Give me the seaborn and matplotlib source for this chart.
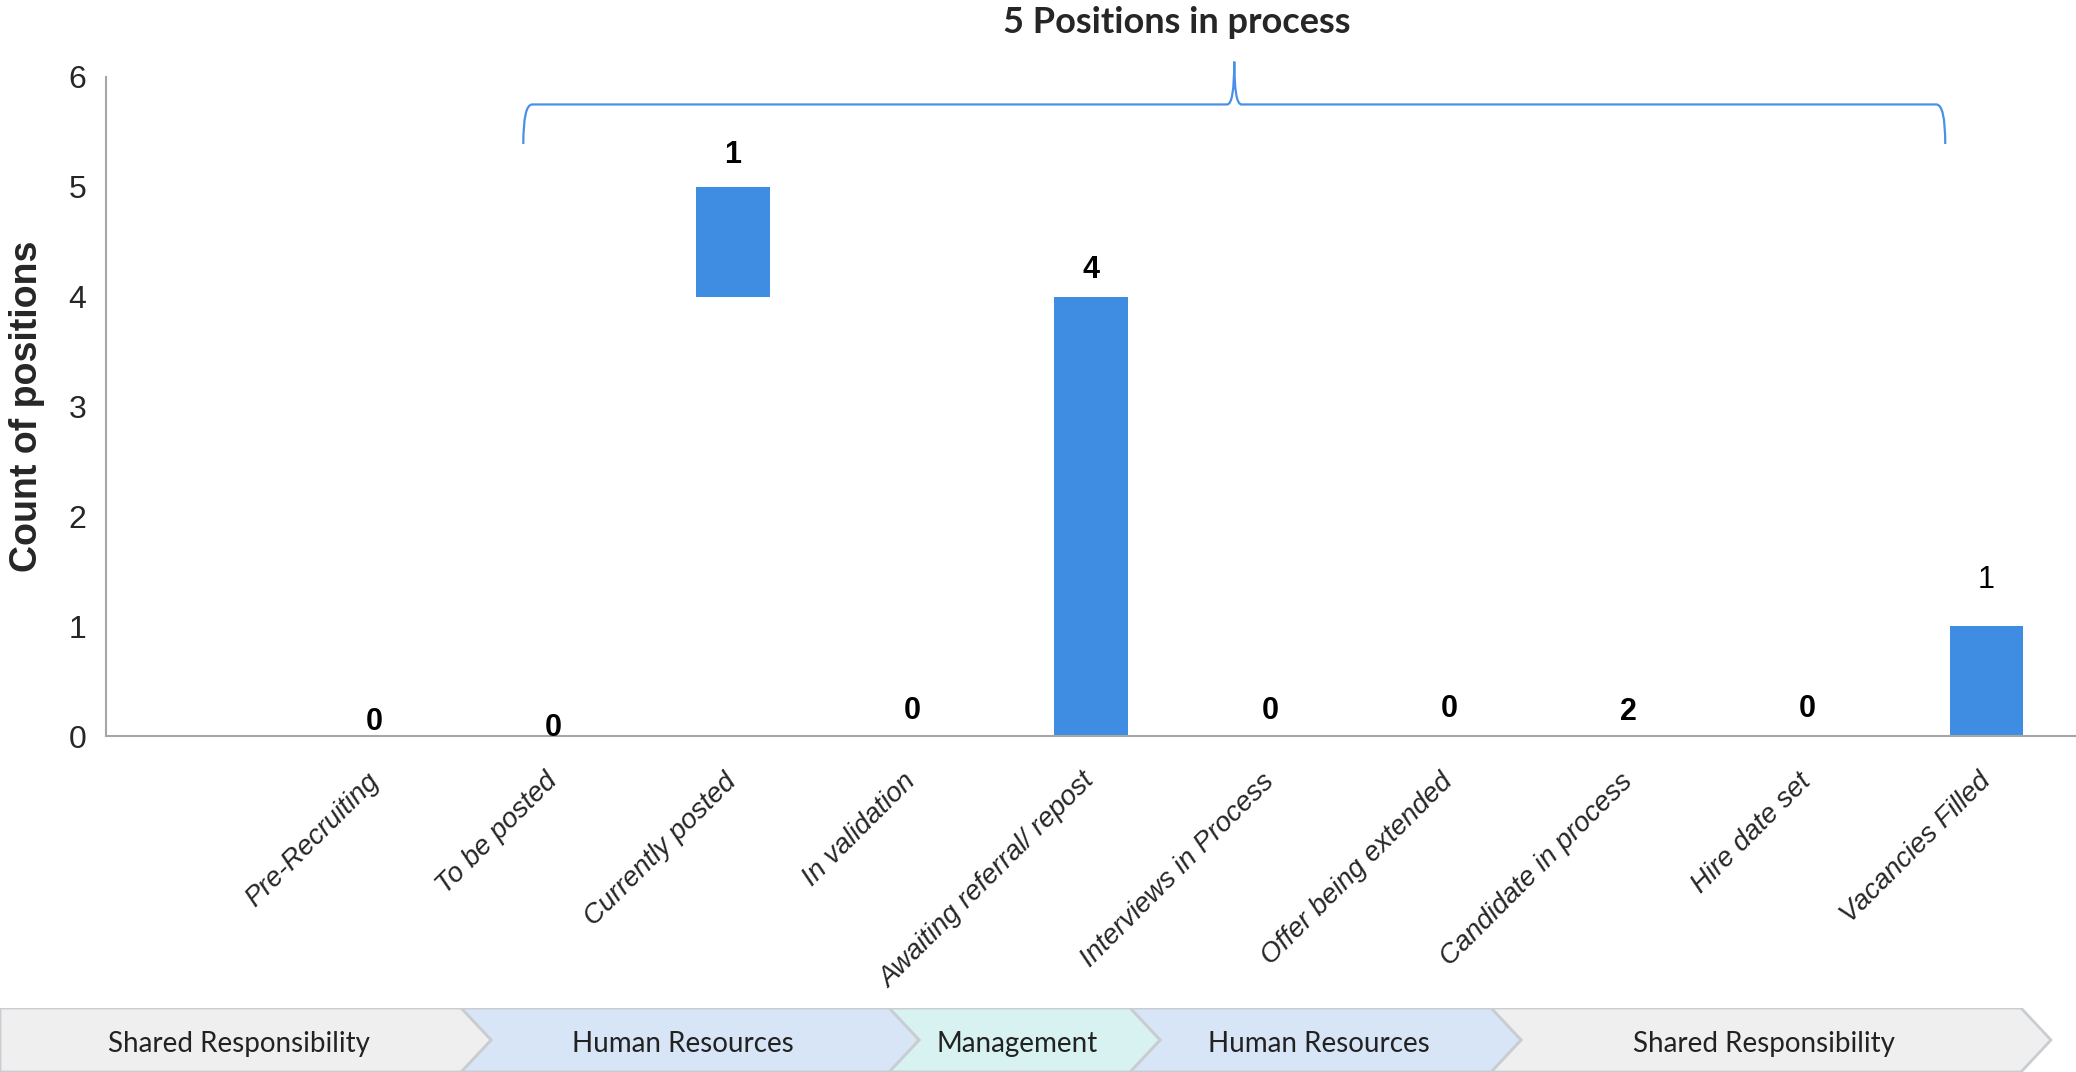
import matplotlib
matplotlib.use('Agg')
import matplotlib.pyplot as plt
from matplotlib import font_manager
from matplotlib.path import Path
from matplotlib.patches import PathPatch, Polygon
import pandas as pd
import seaborn as sns

# ---- data ----
stages = ['Pre-Recruiting', 'To be posted', 'Currently posted', 'In validation',
          'Awaiting referral/ repost', 'Interviews in Process', 'Offer being extended',
          'Candidate in process', 'Hire date set', 'Vacancies Filled']
bar_bottom = [0, 0, 4, 0, 0, 0, 0, 0, 0, 0]
bar_height = [0, 0, 1, 0, 4, 0, 0, 0, 0, 1]
count_labels = [0, 0, 1, 0, 4, 0, 0, 2, 0, 1]
bold_label = [True] * 9 + [False]

brace_title = '5 Positions in process'
owners = ['Shared Responsibility', 'Human Resources', 'Management',
          'Human Resources', 'Shared Responsibility']

# label gaps above each bar (layout only, the reference is a bit uneven)
label_pad = [0.13, 0.07, 0.29, 0.23, 0.24, 0.23, 0.25, 0.22, 0.25, 0.42]

BAR_COLOR = '#3F8DE2'
BRACE_COLOR = '#4A90E8'
SPINE_COLOR = '#A6A6A6'
OWNER_COLORS = {'Shared Responsibility': '#EFEFEF', 'Human Resources': '#D7E5F7',
                'Management': '#D8F1F1'}

sns.set_style('white')
names = {f.name for f in font_manager.fontManager.ttflist}
ARIAL = 'Liberation Sans Narrow' if 'Liberation Sans Narrow' in names else 'Liberation Sans'
CALIBRI = 'Lato' if 'Lato' in names else 'DejaVu Sans'
plt.rcParams['font.family'] = [ARIAL, 'DejaVu Sans']

W, H = 2076, 1072
fig = plt.figure(figsize=(W / 100, H / 100), dpi=100)
ax = fig.add_axes([106 / W, 1 - 736 / H, 1 - 106 / W, (736 - 77) / H])

df = pd.DataFrame({'stage': stages, 'height': bar_height, 'bottom': bar_bottom})
sns.barplot(data=df, x='stage', y='height', bottom=df['bottom'].values, color=BAR_COLOR,
            saturation=1, width=0.41, errorbar=None, ax=ax, edgecolor='none')

for i, (b, h, c, bold, pad) in enumerate(zip(bar_bottom, bar_height, count_labels,
                                             bold_label, label_pad)):
    ax.text(i, b + h + pad, str(c), ha='center', va='center', fontsize=22,
            fontweight='bold' if bold else 'normal', color='black')

ax.set_xlim(-1.5, 9.5)
ax.set_ylim(0, 6)
ax.set_yticks(range(0, 7))
ax.set_xticks(range(len(stages)))
ax.set_xticklabels(stages, rotation=45, ha='right', va='center', rotation_mode='anchor',
                   fontsize=20, style='italic')
ax.tick_params(axis='x', length=0, pad=30)
ax.tick_params(axis='y', length=8, width=1.2, color=SPINE_COLOR, labelsize=23, pad=6)
ax.set_xlabel('')
ax.set_ylabel('Count of positions', fontsize=27, fontweight='bold',
              family=['Liberation Sans', 'DejaVu Sans'])
ax.yaxis.set_label_coords(-0.031, 0.5)
sns.despine(ax=ax, top=True, right=True)
for s in ('left', 'bottom'):
    ax.spines[s].set_color(SPINE_COLOR)
    ax.spines[s].set_linewidth(1.5)

# curly brace over the in-process stages
yb, ye, yp = 5.75, 5.39, 6.14
x0, xm, x1 = 0.83, 4.80, 8.77
verts = [(x0, ye), (x0, yb), (x0 + 0.05, yb), (xm - 0.04, yb), (xm, yb), (xm, yp),
         (xm, yb), (xm + 0.04, yb), (x1 - 0.05, yb), (x1, yb), (x1, ye)]
codes = [Path.MOVETO, Path.CURVE3, Path.CURVE3, Path.LINETO, Path.CURVE3, Path.CURVE3,
         Path.CURVE3, Path.CURVE3, Path.LINETO, Path.CURVE3, Path.CURVE3]
ax.add_patch(PathPatch(Path(verts, codes), fill=False, edgecolor=BRACE_COLOR,
                       linewidth=1.6, clip_on=False))
ax.text(4.48, 6.5, brace_title, ha='center', va='center', fontsize=26,
        fontweight='bold', family=[CALIBRI, 'DejaVu Sans'], clip_on=False)

# ownership chevrons along the bottom
bx = fig.add_axes([0, 0, 1, 64 / H])
bx.set_xlim(0, W)
bx.set_ylim(0, 64)
bx.axis('off')
edges = [(0, 461), (461, 889), (889, 1130), (1130, 1491), (1491, 2021)]
tip = 30
for k, (name, (a, b)) in enumerate(zip(owners, edges)):
    notch = tip if k > 0 else 0
    poly = [(a, 0), (b, 0), (b + tip, 32), (b, 64), (a, 64), (a + notch, 32)]
    bx.add_patch(Polygon(poly, closed=True, facecolor=OWNER_COLORS[name],
                         edgecolor='#C9CDD2', linewidth=2, zorder=5 - k * 0.1))
    bx.text((a + b) / 2 + 8, 28, name, ha='center', va='center', fontsize=20,
            family=[CALIBRI, 'DejaVu Sans'], color='#222222', zorder=10)

fig.savefig('out.png', dpi=100)
